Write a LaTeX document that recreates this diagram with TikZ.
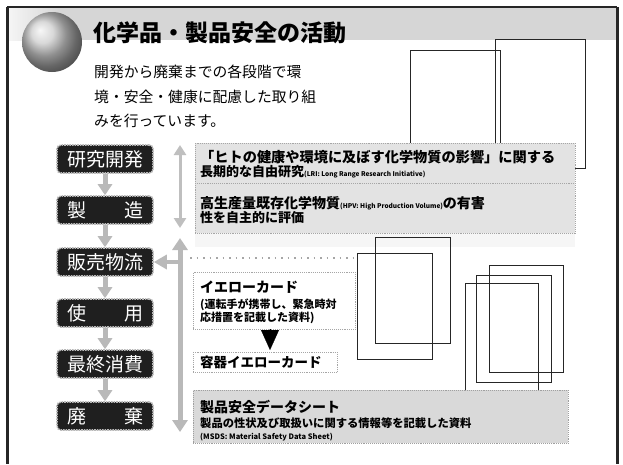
\documentclass[tikz,border=0pt]{standalone}
\usepackage{fontspec}
\usetikzlibrary{arrows.meta}
\newfontfamily\jp{Noto Sans CJK JP}
\newcommand\myfs[1]{\fontsize{#1}{#1}\selectfont}
\tikzset{
  stage/.style={fill=black!88, draw=gray!55, densely dotted, line width=1.6pt,
    rounded corners=4pt, minimum width=96pt, minimum height=28pt, inner sep=0pt,
    text=white, font=\jp\myfs{19}},
  stagearrow/.style={draw=gray!55, line width=5pt, -{Triangle[width=14pt,length=11pt]}},
  rectline/.style={draw=black!85, line width=0.9pt},
  graybox/.style={fill=gray!22, draw=gray!70, densely dotted, line width=0.9pt,
    inner sep=0pt, anchor=north west},
  msdsbox/.style={fill=gray!30, draw=gray!75, densely dotted, line width=0.9pt,
    inner sep=0pt, anchor=north west},
  dotbox/.style={fill=white, draw=gray!70, densely dotted, line width=0.9pt,
    inner sep=0pt, anchor=north west},
  txt/.style={anchor=west, inner sep=0pt, font=\jp\bfseries},
  vthin/.style={draw=gray!50, line width=3pt,
    {Triangle[width=12pt,length=10pt]}-{Triangle[width=12pt,length=10pt]}},
  vthick/.style={draw=gray!55, line width=5pt,
    {Triangle[width=15pt,length=12pt]}-{Triangle[width=15pt,length=12pt]}},
}
\begin{document}
\begin{tikzpicture}[x=1pt,y=-1pt]
\useasboundingbox (0,0) rectangle (623,464);
\fill[white] (0,0) rectangle (623,464);
% header band
\fill[gray!32] (9,8) rectangle (616,40);
\fill[left color=gray!8, right color=gray!32] (9,8) rectangle (60,40);
% frame
\draw[line width=1.5pt, black!85] (7,7) -- (617,7);
\draw[line width=3pt, black!85] (7,7) -- (7,464);
\draw[line width=3pt, black!85] (617,7) -- (617,464);
% ball
\shade[ball color=gray!40] (52,42) circle (30);
% title
\node[anchor=west, inner sep=0pt, font=\jp\bfseries\myfs{23}] (title) at (93,33) {化学品・製品安全の活動};
\node[anchor=west, inner sep=0pt, font=\jp\myfs{14.8}] (sub1) at (94,72) {開発から廃棄までの各段階で環};
\node[anchor=west, inner sep=0pt, font=\jp\myfs{14.8}] (sub2) at (94,97) {境・安全・健康に配慮した取り組};
\node[anchor=west, inner sep=0pt, font=\jp\myfs{14.8}] (sub3) at (94,121) {みを行っています。};
% picture frames (upper)
\draw[rectline] (410,50) rectangle (500,210);
\draw[rectline] (495,39) rectangle (585,168);
% light shadow under research boxes
\fill[gray!7] (195,143) rectangle (575,247);
% research boxes
\node[graybox, minimum width=380pt, minimum height=40pt] (lri) at (195,143) {};
\node[graybox, minimum width=380pt, minimum height=50pt] (hpv) at (195,183) {};
\node[txt, font=\jp\bfseries\myfs{14.2}] (lri1) at (200,157) {「ヒトの健康や環境に及ぼす化学物質の影響」に関する};
\node[txt, font=\jp\bfseries\myfs{13}] (lri2) at (200,172) {長期的な自由研究{\myfs{6.5}(LRI: Long Range Research Initiative)}};
\node[txt, font=\jp\bfseries\myfs{14}] (hpv1) at (200,203) {高生産量既存化学物質{\myfs{6.5}(HPV: High Production Volume)}の有害};
\node[txt, font=\jp\bfseries\myfs{13}] (hpv2) at (200,218) {性を自主的に評価};
% picture frames (lower)
\draw[rectline] (375,237) rectangle (450,343);
\draw[rectline] (357,253) rectangle (432,359);
\draw[rectline] (489,265) rectangle (563,372);
\draw[rectline] (476,275) rectangle (551,382);
\draw[rectline] (465,283) rectangle (538,390);
% stages
\node[stage] (s1) at (105,159) {研究開発};
\node[stage] (s2) at (105,210) {製　　造};
\node[stage] (s3) at (105,262) {販売物流};
\node[stage] (s4) at (105,313) {使　　用};
\node[stage] (s5) at (105,364) {最終消費};
\node[stage] (s6) at (105,416) {廃　　棄};
\draw[stagearrow] (s1.south) -- (s2.north);
\draw[stagearrow] (s2.south) -- (s3.north);
\draw[stagearrow] (s3.south) -- (s4.north);
\draw[stagearrow] (s4.south) -- (s5.north);
\draw[stagearrow] (s5.south) -- (s6.north);
% vertical range arrows
\coordinate (r1a) at (180,145);
\coordinate (r1b) at (180,228);
\coordinate (r2a) at (180,238);
\coordinate (r2b) at (180,432);
\draw[vthin] (r1a) -- (r1b);
\draw[vthick] (r2a) -- (r2b);
\coordinate (h3) at (178,262);
\draw[draw=gray!55, line width=4pt, -{Triangle[width=14pt,length=13pt]}] (h3) -- (s3.east);
% decorative dotted line
\coordinate (dl1) at (190,258);
\coordinate (dl2) at (356,258);
\draw[gray!70, line width=1.6pt, dash pattern=on 1.5pt off 5pt] (dl1) -- (dl2);
% yellow card
\node[dotbox, minimum width=162pt, minimum height=57pt] (yc) at (193,272) {};
\node[txt, font=\jp\bfseries\myfs{14}] (yc1) at (200,287) {イエローカード};
\node[txt, font=\jp\bfseries\myfs{11}] (yc2) at (200,305) {(運転手が携帯し、緊急時対};
\node[txt, font=\jp\bfseries\myfs{11}] (yc3) at (200,318) {応措置を記載した資料)};
\node[dotbox, minimum width=144pt, minimum height=20pt] (ycc) at (193,352) {};
\node[txt, font=\jp\bfseries\myfs{13.5}] (ycc1) at (200,362) {容器イエローカード};
\coordinate (t1) at (270,329);
\coordinate (t2) at (270,350);
\draw[black, line width=0.2pt, -{Triangle[width=18pt,length=20pt]}] (t1) -- (t2);
% MSDS
\node[msdsbox, minimum width=375pt, minimum height=53pt] (msds) at (193,390) {};
\node[txt, font=\jp\bfseries\myfs{14}] (ms1) at (200,407) {製品安全データシート};
\node[txt, font=\jp\bfseries\myfs{11.3}] (ms2) at (200,423) {製品の性状及び取扱いに関する情報等を記載した資料};
\node[txt, font=\jp\bfseries\myfs{7.5}] (ms3) at (200,437) {(MSDS: Material Safety Data Sheet)};
\end{tikzpicture}
\end{document}
